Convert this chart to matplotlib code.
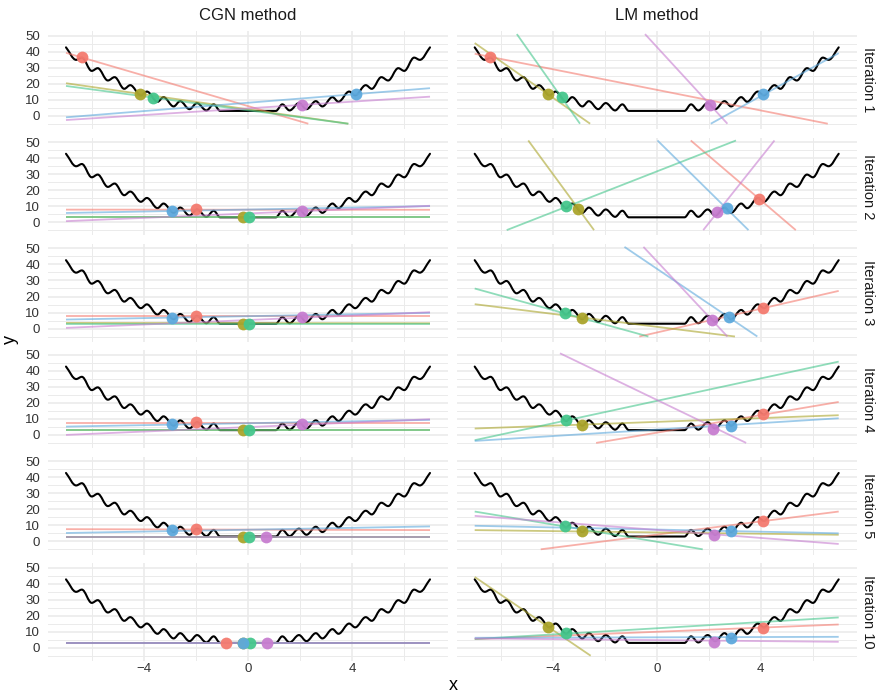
import matplotlib.pyplot as plt
from matplotlib.path import Path
from matplotlib.patches import PathPatch

plt.rcParams['font.family'] = ['Liberation Sans', 'DejaVu Sans']

methods = ['CGN method', 'LM method']
iterations = [1, 2, 3, 4, 5, 10]
# run colours (as they appear in the picture: red, olive, green, blue, pink)
colors = ['#F47A6F', '#ABA52C', '#45C68C', '#5DA9DD', '#C77DD0']

# objective curve: peaks / troughs
curve_x = [-7.0, -6.61, -6.39, -6.01, -5.78, -5.39, -5.13, -4.76, -4.53, -4.12,
           -3.89, -3.48, -3.25, -2.86, -2.61, -2.25, -1.96, -1.60, -1.32, -1.07,
           1.07, 1.32, 1.60, 1.96, 2.25, 2.61, 2.86, 3.25, 3.48, 3.89,
           4.12, 4.53, 4.76, 5.13, 5.39, 5.78, 6.01, 6.39, 6.61, 7.0]
curve_y = [42.7, 34.9, 36.3, 28.0, 29.7, 22.0, 24.1, 16.8, 19.1, 12.7,
           15.1, 8.7, 11.6, 5.8, 9.1, 4.1, 7.9, 3.3, 7.1, 3.0,
           3.0, 7.1, 3.3, 7.9, 4.1, 9.1, 5.8, 11.6, 8.7, 15.1,
           12.7, 19.1, 16.8, 24.1, 22.0, 29.7, 28.0, 36.3, 34.9, 42.7]

# current points per iteration (rows) and run (columns: red, olive, green, blue, pink)
cgn_px = [[-6.40, -4.15, -3.64, 4.14, 2.06],
          [-2.01, -0.18, 0.02, -2.91, 2.06],
          [-2.01, -0.18, 0.04, -2.91, 2.06],
          [-2.01, -0.18, 0.02, -2.91, 2.06],
          [-2.01, -0.18, 0.05, -2.91, 0.69],
          [-0.83, -0.18, 0.06, -0.20, 0.73]]
cgn_py = [[36.4, 13.4, 11.0, 13.4, 6.5],
          [7.9, 3.0, 3.0, 6.8, 7.0],
          [7.9, 3.0, 3.0, 6.8, 7.1],
          [7.9, 3.0, 3.0, 6.8, 7.1],
          [7.9, 3.0, 3.0, 6.8, 3.0],
          [3.0, 3.0, 3.0, 3.0, 3.0]]
lm_px = [[-6.41, -4.19, -3.63, 4.10, 2.05],
         [3.94, -3.01, -3.49, 2.69, 2.33],
         [4.08, -2.88, -3.53, 2.78, 2.12],
         [4.08, -2.88, -3.49, 2.85, 2.18],
         [4.08, -2.88, -3.53, 2.85, 2.21],
         [4.08, -4.19, -3.50, 2.86, 2.22]]
lm_py = [[36.4, 13.4, 11.5, 13.4, 6.5],
         [14.6, 8.3, 9.8, 8.7, 6.2],
         [12.9, 6.7, 9.8, 7.3, 5.6],
         [12.9, 6.3, 9.2, 5.6, 4.0],
         [12.4, 6.2, 9.3, 6.2, 4.1],
         [12.4, 13.1, 9.3, 6.2, 3.7]]

# local linear models: segment end points (x0, y0) -> (x1, y1)
cgn_x0 = [[-7.0, -7.0, -7.0, -7.0, -7.0]] * 6
cgn_x1 = [[2.32, 3.86, 3.86, 7.0, 7.0]] + [[7.0, 7.0, 7.0, 7.0, 7.0]] * 5
cgn_y0 = [[39.3, 20.3, 18.6, -1.0, -2.7],
          [7.8, 3.2, 3.1, 5.7, 0.6],
          [7.7, 3.5, 3.0, 5.6, 0.4],
          [7.5, 3.0, 2.8, 5.2, 0.0],
          [7.6, 2.9, 2.9, 5.2, 2.8],
          [2.8, 2.8, 2.8, 2.8, 2.8]]
cgn_y1 = [[-5.0, -5.0, -5.0, 17.2, 11.9],
          [7.7, 3.2, 3.1, 10.0, 10.2],
          [7.7, 3.3, 3.0, 9.8, 10.2],
          [7.5, 3.0, 2.8, 9.4, 9.8],
          [7.0, 2.9, 2.9, 9.3, 2.8],
          [2.8, 2.8, 2.8, 2.8, 2.8]]
lm_x0 = [[-7.0, -7.0, -5.38, 2.08, -0.45],
         [1.31, -4.94, -5.77, 0.03, 1.79],
         [-0.67, -7.0, -7.0, -1.24, -0.51],
         [-2.33, -7.0, -7.0, -7.0, -3.72],
         [-4.46, -7.0, -7.0, -7.0, -7.0],
         [-7.0, -7.0, -7.0, -7.0, -7.0]]
lm_y0 = [[38.7, 45.4, 51.0, -5.0, 51.0],
         [51.0, 51.0, -5.0, 51.0, -5.0],
         [-5.0, 15.2, 25.0, 51.0, 51.0],
         [-5.0, 4.0, -3.3, -3.75, 51.0],
         [-5.0, 7.0, 18.6, 9.7, 15.9],
         [5.4, 44.2, 5.4, 6.2, 5.8]]
lm_x1 = [[6.58, -2.56, -2.95, 7.0, 2.72],
         [5.35, -2.41, 3.05, 3.53, 4.53],
         [7.0, 3.01, -0.32, 3.87, 2.72],
         [7.0, 7.0, 7.0, 7.0, 3.44],
         [7.0, 7.0, 1.77, 7.0, 7.0],
         [7.0, -2.54, 7.0, 7.0, 7.0]]
lm_y1 = [[-5.0, -5.0, -5.0, 39.1, -5.0],
         [-5.0, -5.0, 51.0, -5.0, 51.0],
         [23.5, -5.0, -5.0, -5.0, -5.0],
         [20.6, 12.3, 45.8, 10.4, -5.0],
         [18.6, 4.1, -5.0, 5.0, -1.65],
         [14.5, -5.0, 18.9, 6.8, 3.7]]

panel_data = [(cgn_px, cgn_py, cgn_x0, cgn_y0, cgn_x1, cgn_y1),
              (lm_px, lm_py, lm_x0, lm_y0, lm_x1, lm_y1)]


def wiggle_path(xs, ys, k=0.36):
    # smooth curve through the extremes (flat tangent at each extreme)
    verts = [(xs[0], ys[0])]
    codes = [Path.MOVETO]
    n = len(xs)
    for i in range(1, n):
        x0, y0, x1, y1 = xs[i - 1], ys[i - 1], xs[i], ys[i]
        dx, dy = x1 - x0, y1 - y0
        c1 = (x0 + k * dx, y0 + (k * dy if i == 1 else 0))
        c2 = (x1 - k * dx, y1 - (k * dy if i == n - 1 else 0))
        verts += [c1, c2, (x1, y1)]
        codes += [Path.CURVE4] * 3
    return Path(verts, codes)


W, H = 882, 696
fig = plt.figure(figsize=(W / 100, H / 100), dpi=100)

col_left = [47.8, 456.5]
panel_w = 400.4
panel_h = 97.8
row_pitch = 106.4
grid_col = '#EBEBEB'

for j in range(2):
    px, py, x0, y0, x1, y1 = panel_data[j]
    for i, it in enumerate(iterations):
        top = 31.2 + row_pitch * i
        ax = fig.add_axes([col_left[j] / W, 1 - (top + panel_h) / H,
                           panel_w / W, panel_h / H])
        ax.set_xlim(-7.7, 7.7)
        ax.set_ylim(-8.3, 52.8)
        ax.set_xticks([-4, 0, 4])
        ax.set_xticks([-6, -2, 2, 6], minor=True)
        ax.set_yticks([0, 10, 20, 30, 40, 50])
        ax.set_yticks([-5, 5, 15, 25, 35, 45], minor=True)
        ax.grid(which='major', color=grid_col, lw=1.2, zorder=0)
        ax.grid(which='minor', color=grid_col, lw=0.7, zorder=0)
        ax.set_axisbelow(True)
        for s in ax.spines.values():
            s.set_visible(False)
        ax.tick_params(which='both', length=0, labelsize=9.5, labelcolor='#333333')
        ax.tick_params(axis='y', pad=5.5)
        ax.tick_params(axis='x', pad=1.5)
        if j == 1:
            ax.set_yticklabels([])
        if i < len(iterations) - 1:
            ax.set_xticklabels([])

        ax.add_patch(PathPatch(wiggle_path(curve_x, curve_y), fill=False,
                               edgecolor='black', lw=1.5, zorder=2,
                               joinstyle='round', capstyle='round'))
        for k in range(5):
            ax.plot([x0[i][k], x1[i][k]], [y0[i][k], y1[i][k]],
                    color=colors[k], lw=1.3, alpha=0.6, zorder=3,
                    solid_capstyle='butt')
        for k in range(5):
            ax.scatter(px[i][k], py[i][k], s=72, color=colors[k], alpha=0.95,
                       linewidths=0, zorder=4)

        if j == 1:
            fig.text(868 / W, 1 - (top + panel_h / 2) / H, f'Iteration {it}',
                     rotation=270, ha='center', va='center', fontsize=10.5,
                     color='#1A1A1A')
    fig.text((col_left[j] + panel_w / 2) / W, 1 - 16 / H, methods[j],
             ha='center', va='center', fontsize=12, color='#1A1A1A')

fig.text(453 / W, 1 - 686 / H, 'x', ha='center', va='center', fontsize=13)
fig.text(10 / W, 1 - 340 / H, 'y', ha='center', va='center', fontsize=13,
         rotation=90)

fig.savefig('out.png', dpi=100)
